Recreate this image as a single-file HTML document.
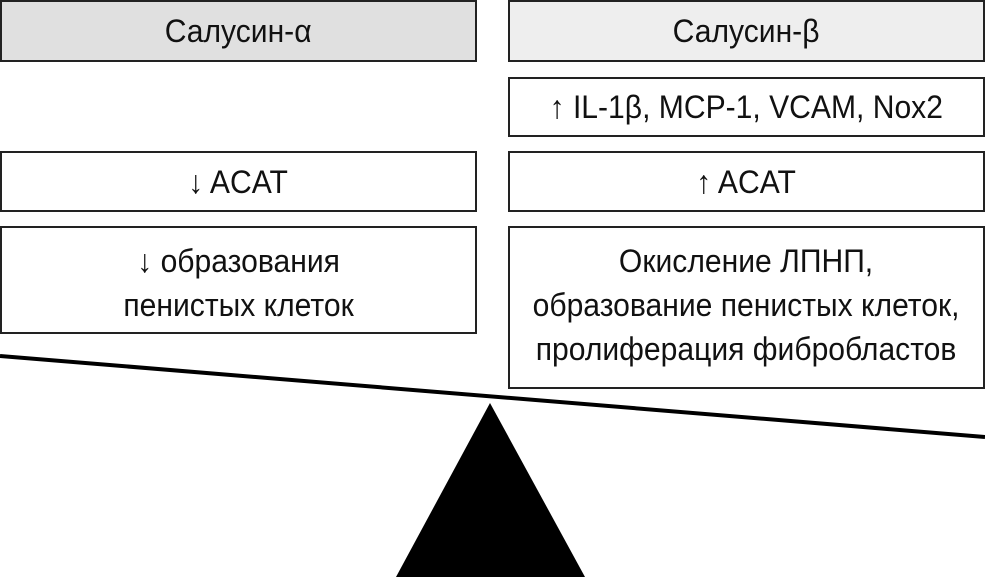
<!DOCTYPE html>
<html><head><meta charset="utf-8"><style>
body{margin:0;width:985px;height:577px;background:#fff;position:relative;overflow:hidden;font-family:"Liberation Sans",sans-serif;}
.b{position:absolute;box-sizing:border-box;border:2px solid #222;display:flex;align-items:center;justify-content:center;text-align:center;font-size:32px;line-height:44px;color:#111;}
.b span{display:inline-block;transform:scaleX(0.94);white-space:nowrap;}
.t{align-items:flex-start;padding-top:11px;}
</style></head><body>
<div class="b" style="left:0;top:0;width:477px;height:62px;background:#e0e0e0"><span>Салусин-α</span></div>
<div class="b" style="left:508px;top:0;width:477px;height:62px;background:#eeeeee"><span>Салусин-β</span></div>
<div class="b" style="left:508px;top:77px;width:477px;height:60px"><span>↑ IL-1β, MCP-1, VCAM, Nox2</span></div>
<div class="b" style="left:0;top:151px;width:477px;height:61px"><span>↓ ACAT</span></div>
<div class="b" style="left:508px;top:151px;width:477px;height:61px"><span>↑ ACAT</span></div>
<div class="b t" style="left:0;top:226px;width:477px;height:108px"><span>↓ образования<br>пенистых клеток</span></div>
<div class="b t" style="left:508px;top:226px;width:477px;height:163px"><span>Окисление ЛПНП,<br>образование пенистых клеток,<br>пролиферация фибробластов</span></div>
<svg width="985" height="577" style="position:absolute;left:0;top:0">
<line x1="0" y1="356" x2="985" y2="437" stroke="#000" stroke-width="4"/>
<polygon points="490,403 396,577 585,577" fill="#000"/>
</svg>
</body></html>
